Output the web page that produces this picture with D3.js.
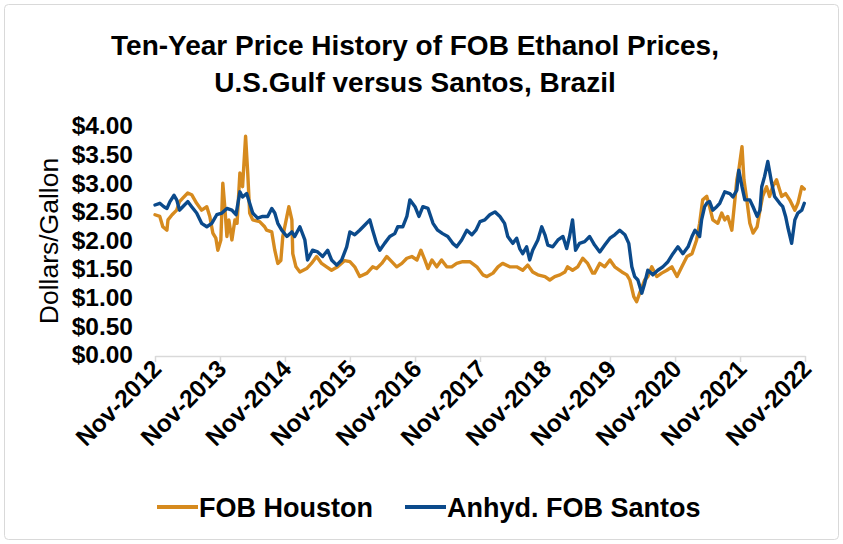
<!DOCTYPE html>
<html>
<head>
<meta charset="utf-8">
<script src="https://cdn.jsdelivr.net/npm/d3@7"></script>
<style>
  html, body { margin: 0; padding: 0; background: #fff; }
  svg { display: block; }
  text { font-family: "Liberation Sans", Arial, sans-serif; }
</style>
</head>
<body>
<div id="chart"></div>
<script>
const titleLines = ["Ten-Year Price History of FOB Ethanol Prices,", "U.S.Gulf versus Santos, Brazil"];
const yAxisTitle = "Dollars/Gallon";
const seriesNames = ["FOB Houston", "Anhyd. FOB Santos"];
const seriesColors = ["#D68A1E", "#0B4A8B"];
const xTickDates = ["2012-11-01","2013-11-01","2014-11-01","2015-11-01","2016-11-01","2017-11-01","2018-11-01","2019-11-01","2020-11-01","2021-11-01","2022-11-01"];
const yTickValues = [0, 0.5, 1, 1.5, 2, 2.5, 3, 3.5, 4];

const houstonDates = ["2012-11-01","2012-11-28","2012-12-15","2013-01-07","2013-01-13","2013-02-05","2013-03-03","2013-03-19","2013-04-06","2013-05-04","2013-05-26","2013-06-23","2013-07-21","2013-08-19","2013-09-05","2013-09-22","2013-10-09","2013-10-20","2013-11-06","2013-11-17","2013-11-28","2013-12-10","2013-12-21","2014-01-07","2014-01-24","2014-02-05","2014-02-21","2014-03-08","2014-03-25","2014-04-06","2014-04-17","2014-05-04","2014-06-12","2014-07-10","2014-07-21","2014-08-19","2014-09-05","2014-09-22","2014-10-09","2014-10-20","2014-11-12","2014-11-23","2014-12-10","2014-12-15","2015-01-02","2015-01-24","2015-03-03","2015-03-30","2015-04-28","2015-05-26","2015-06-23","2015-07-21","2015-08-24","2015-10-03","2015-11-01","2015-11-28","2015-12-26","2016-02-05","2016-03-08","2016-03-30","2016-04-28","2016-05-26","2016-06-23","2016-07-21","2016-08-19","2016-09-16","2016-10-14","2016-11-12","2016-12-04","2016-12-26","2017-01-13","2017-02-04","2017-03-03","2017-03-30","2017-04-28","2017-05-26","2017-06-23","2017-07-27","2017-09-05","2017-10-14","2017-11-17","2017-12-10","2018-01-13","2018-02-10","2018-03-08","2018-04-17","2018-05-26","2018-06-29","2018-07-27","2018-08-24","2018-09-22","2018-11-01","2018-11-28","2018-12-26","2019-01-24","2019-02-21","2019-03-08","2019-04-05","2019-05-04","2019-06-01","2019-06-29","2019-07-27","2019-08-07","2019-09-05","2019-10-03","2019-11-01","2019-11-28","2020-01-07","2020-02-04","2020-02-21","2020-03-14","2020-03-30","2020-04-16","2020-05-14","2020-06-01","2020-06-23","2020-07-21","2020-08-18","2020-09-16","2020-10-14","2020-11-12","2020-12-09","2021-01-07","2021-02-04","2021-03-02","2021-03-19","2021-04-05","2021-04-28","2021-05-14","2021-06-01","2021-06-29","2021-07-21","2021-08-07","2021-08-24","2021-09-16","2021-10-03","2021-10-14","2021-10-25","2021-11-12","2021-11-23","2021-12-09","2021-12-26","2022-01-13","2022-02-05","2022-02-21","2022-03-08","2022-03-30","2022-04-16","2022-05-03","2022-05-25","2022-06-23","2022-07-15","2022-08-07","2022-09-05","2022-09-22","2022-10-14","2022-10-28"];
const houstonValues = [2.45,2.42,2.24,2.18,2.36,2.45,2.53,2.68,2.74,2.83,2.80,2.65,2.53,2.59,2.42,2.13,2.04,1.83,2.01,3.00,2.59,2.07,2.36,2.01,2.36,2.30,3.18,2.94,3.82,3.18,2.48,2.36,2.33,2.24,2.18,2.15,1.83,1.60,1.65,2.07,2.42,2.59,2.36,1.77,1.54,1.45,1.51,1.60,1.72,1.60,1.54,1.48,1.54,1.65,1.63,1.54,1.37,1.43,1.54,1.51,1.60,1.72,1.63,1.54,1.60,1.69,1.72,1.66,1.83,1.66,1.51,1.66,1.54,1.66,1.54,1.54,1.60,1.63,1.63,1.54,1.40,1.37,1.43,1.54,1.60,1.54,1.54,1.48,1.57,1.45,1.40,1.37,1.31,1.37,1.40,1.45,1.54,1.48,1.54,1.69,1.60,1.43,1.43,1.60,1.54,1.66,1.54,1.45,1.40,1.31,1.02,0.93,1.08,1.31,1.37,1.54,1.37,1.43,1.48,1.54,1.37,1.54,1.72,1.77,2.01,2.30,2.71,2.77,2.59,2.36,2.30,2.48,2.36,2.42,2.18,2.71,3.06,3.23,3.64,3.06,2.71,2.30,2.13,2.24,2.53,2.77,2.94,2.77,2.94,3.06,2.77,2.82,2.71,2.53,2.65,2.94,2.90];

const santosDates = ["2012-11-01","2012-11-28","2012-12-21","2013-01-07","2013-01-24","2013-02-16","2013-03-03","2013-03-19","2013-04-06","2013-05-04","2013-05-26","2013-06-23","2013-07-21","2013-08-19","2013-09-16","2013-10-14","2013-11-12","2013-12-10","2014-01-07","2014-01-30","2014-02-21","2014-03-08","2014-03-31","2014-04-17","2014-05-04","2014-06-01","2014-06-29","2014-07-27","2014-08-19","2014-09-05","2014-09-22","2014-10-14","2014-11-12","2014-12-10","2014-12-26","2015-01-24","2015-02-21","2015-03-08","2015-04-05","2015-05-04","2015-06-01","2015-06-29","2015-07-21","2015-08-19","2015-09-16","2015-10-14","2015-11-01","2015-11-28","2015-12-26","2016-01-24","2016-02-21","2016-03-08","2016-03-30","2016-04-17","2016-05-14","2016-06-12","2016-07-10","2016-07-27","2016-08-24","2016-09-16","2016-10-03","2016-11-01","2016-11-23","2016-12-15","2017-01-13","2017-02-10","2017-03-08","2017-04-05","2017-05-04","2017-06-01","2017-06-23","2017-07-21","2017-08-19","2017-09-16","2017-10-09","2017-11-01","2017-11-28","2017-12-26","2018-01-24","2018-02-21","2018-03-19","2018-04-06","2018-05-04","2018-05-26","2018-06-12","2018-06-29","2018-07-21","2018-08-07","2018-08-24","2018-09-22","2018-10-14","2018-11-01","2018-11-17","2018-12-15","2019-01-13","2019-02-10","2019-03-03","2019-03-19","2019-04-05","2019-04-22","2019-05-14","2019-06-12","2019-07-10","2019-08-07","2019-09-05","2019-10-03","2019-11-01","2019-11-28","2019-12-26","2020-01-24","2020-02-15","2020-03-03","2020-03-19","2020-04-06","2020-04-28","2020-05-14","2020-06-01","2020-06-29","2020-07-27","2020-08-24","2020-09-22","2020-10-20","2020-11-17","2020-12-15","2021-01-13","2021-02-04","2021-02-21","2021-03-08","2021-03-19","2021-03-30","2021-04-16","2021-04-28","2021-05-14","2021-06-01","2021-06-23","2021-07-10","2021-08-07","2021-09-05","2021-09-22","2021-10-14","2021-10-25","2021-11-12","2021-11-28","2021-12-26","2022-01-13","2022-02-05","2022-02-21","2022-03-03","2022-03-19","2022-04-06","2022-04-28","2022-05-14","2022-06-12","2022-06-29","2022-07-15","2022-07-27","2022-08-18","2022-09-05","2022-09-22","2022-10-14","2022-10-28"];
const santosValues = [2.62,2.65,2.59,2.56,2.68,2.79,2.71,2.53,2.59,2.68,2.59,2.48,2.30,2.24,2.30,2.45,2.48,2.56,2.53,2.45,2.85,2.76,2.82,2.65,2.48,2.39,2.42,2.42,2.56,2.48,2.30,2.18,2.07,2.15,2.07,2.24,2.01,1.66,1.83,1.80,1.72,1.83,1.66,1.57,1.66,1.89,2.15,2.10,2.18,2.27,2.36,2.18,1.95,1.83,1.95,2.07,2.12,2.24,2.24,2.42,2.71,2.59,2.42,2.59,2.56,2.30,2.18,2.12,2.07,1.95,1.89,2.01,2.18,2.10,2.18,2.33,2.36,2.45,2.50,2.42,2.30,2.07,1.95,2.04,1.86,1.77,1.89,1.66,1.83,2.01,2.24,2.10,1.92,1.89,2.01,2.07,1.86,2.07,2.36,1.83,1.95,1.98,2.07,1.92,1.80,1.92,2.04,2.10,2.18,2.10,1.95,1.54,1.37,1.31,1.08,1.25,1.48,1.40,1.48,1.54,1.63,1.77,1.89,1.77,1.89,2.07,2.18,2.12,2.07,2.36,2.59,2.65,2.68,2.53,2.59,2.65,2.85,2.82,2.76,2.88,3.23,2.94,2.71,2.71,2.59,2.42,2.53,2.94,3.12,3.38,3.00,2.77,2.65,2.59,2.42,2.24,1.95,2.36,2.48,2.53,2.65];

const W = 843, H = 544;
const parse = d3.timeParse("%Y-%m-%d");
const svg = d3.select("#chart").append("svg").attr("width", W).attr("height", H);
svg.append("rect").attr("x", 0).attr("y", 0).attr("width", W).attr("height", H).attr("fill", "#fff");
svg.append("rect").attr("x", 4.5).attr("y", 4.5).attr("width", W - 9).attr("height", H - 9)
  .attr("rx", 4).attr("fill", "none").attr("stroke", "#d9d9d9").attr("stroke-width", 1);

const x = d3.scaleTime().domain([parse(xTickDates[0]), parse(xTickDates[xTickDates.length - 1])]).range([155, 805]);
const y = d3.scaleLinear().domain([0, 4]).range([355, 126]);

// Title
svg.append("g").selectAll("text").data(titleLines).join("text")
  .attr("x", 415).attr("y", (d, i) => 55 + i * 37)
  .attr("text-anchor", "middle").attr("font-size", 28).attr("font-weight", "bold").attr("fill", "#000")
  .text(d => d);

// Y axis
const yAxis = svg.append("g").attr("transform", "translate(155,0)")
  .call(d3.axisLeft(y).tickValues(yTickValues).tickSize(0).tickPadding(22).tickFormat(d => "$" + d.toFixed(2)));
yAxis.select(".domain").remove();
yAxis.selectAll("text").attr("font-size", 24.5).attr("font-weight", "bold").attr("fill", "#000")
  .attr("font-family", "Liberation Sans, Arial, sans-serif");

svg.append("text").attr("transform", "translate(58,241) rotate(-90)")
  .attr("text-anchor", "middle").attr("font-size", 26.5).attr("fill", "#000").text(yAxisTitle);

// X axis
const xAxis = svg.append("g").attr("transform", "translate(0,356)")
  .call(d3.axisBottom(x).tickValues(xTickDates.map(parse)).tickSize(6).tickSizeOuter(0).tickFormat(d3.timeFormat("%b-%Y")));
xAxis.select(".domain").attr("stroke", "#d9d9d9").attr("stroke-width", 1.5);
xAxis.selectAll(".tick line").attr("stroke", "#d9d9d9").attr("stroke-width", 1.5);
xAxis.selectAll("text").attr("font-size", 24.5).attr("font-weight", "bold").attr("fill", "#000")
  .attr("font-family", "Liberation Sans, Arial, sans-serif")
  .attr("text-anchor", "end").attr("dy", "0.7em")
  .attr("transform", "translate(-11,-4) rotate(-45)");

// Lines
const series = [
  { name: seriesNames[0], color: seriesColors[0], dates: houstonDates, values: houstonValues },
  { name: seriesNames[1], color: seriesColors[1], dates: santosDates, values: santosValues }
];
const line = d3.line().x(d => x(d[0])).y(d => y(d[1])).curve(d3.curveLinear);
series.forEach(s => {
  const pts = s.dates.map((d, i) => [parse(d), s.values[i]]);
  svg.append("path").datum(pts).attr("d", line)
    .attr("fill", "none").attr("stroke", s.color).attr("stroke-width", 3.4)
    .attr("stroke-linejoin", "round").attr("stroke-linecap", "round");
});

// Legend
const legendX = [157, 405];
const lg = svg.append("g").selectAll("g").data(series).join("g")
  .attr("transform", (d, i) => `translate(${legendX[i]},507)`);
lg.append("line").attr("x1", 0).attr("x2", 41).attr("y1", 0).attr("y2", 0)
  .attr("stroke", d => d.color).attr("stroke-width", 4);
lg.append("text").attr("x", 42).attr("y", 10).attr("font-size", 27).attr("font-weight", "bold").attr("fill", "#000")
  .text(d => d.name);
</script>
</body>
</html>
